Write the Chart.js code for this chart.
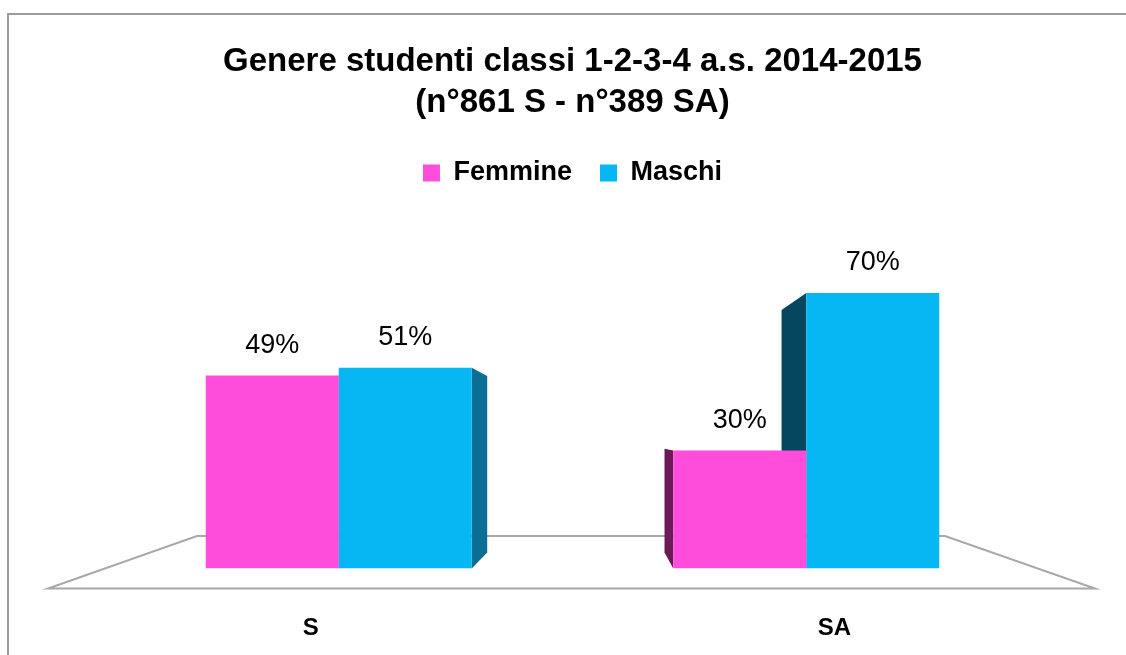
<!DOCTYPE html>
<html>
<head>
<meta charset="utf-8">
<script src="https://cdn.jsdelivr.net/npm/chart.js@4.4.0/dist/chart.umd.min.js"></script>
<style>
  html, body { margin: 0; padding: 0; background: #fff; overflow: hidden; }
  #frame { position: absolute; left: 7px; top: 13px; width: 1140px; height: 660px;
           border-left: 2px solid #9c9c9c; border-top: 2px solid #9c9c9c; }
  #wrap { position: absolute; left: 0; top: 0; width: 1126px; height: 655px; }
</style>
</head>
<body>
<div id="frame"></div>
<div id="wrap"><canvas id="myChart" width="1126" height="655"></canvas></div>
<script>
// dati
var categories = ['S', 'SA'];
var seriesNames = ['Femmine', 'Maschi'];
var femmine = [49, 30];
var maschi = [51, 70];
var titleLines = ['Genere studenti classi 1-2-3-4 a.s. 2014-2015', '(n°861 S - n°389 SA)'];

// stile
var fontFam = "'Liberation Sans', Arial, sans-serif";
var frontColors = ['#FF4DDB', '#07B7F3'];
var sideLeftColors = ['#6B1A56', '#04475F'];
var sideRightColors = ['#7A1F63', '#0A6E95'];
var depth = 0.12;

function vanish(a) {
    return { x: a.left + a.width * 0.53, y: a.top + a.height * 0.643 };
}

// pavimento 3D
var floorPlugin = {
    id: 'floor',
    beforeDatasetsDraw: function (chart) {
        var a = chart.chartArea;
        var ctx = chart.ctx;
        ctx.save();
        ctx.beginPath();
        ctx.moveTo(a.left - 57, a.bottom + 20);
        ctx.lineTo(a.right + 55, a.bottom + 20);
        ctx.lineTo(a.right - 95, a.bottom - 32.5);
        ctx.lineTo(a.left + 92, a.bottom - 32.5);
        ctx.closePath();
        ctx.strokeStyle = '#a8a8a8';
        ctx.lineWidth = 2;
        ctx.stroke();

        // facce laterali delle barre
        var v = vanish(a);
        chart.data.datasets.forEach(function (ds, di) {
            var meta = chart.getDatasetMeta(di);
            meta.data.forEach(function (bar) {
                var p = bar.getProps(['x', 'y', 'base', 'width'], true);
                var l = p.x - p.width / 2, r = p.x + p.width / 2;
                var edge, color;
                if (r <= v.x) { edge = r; color = sideRightColors[di]; }
                else if (l >= v.x) { edge = l; color = sideLeftColors[di]; }
                else return;
                var bx = edge + (v.x - edge) * depth;
                var bt = p.y + (v.y - p.y) * depth;
                var bb = p.base + (v.y - p.base) * depth;
                ctx.beginPath();
                ctx.moveTo(edge, p.y);
                ctx.lineTo(bx, bt);
                ctx.lineTo(bx, bb);
                ctx.lineTo(edge, p.base);
                ctx.closePath();
                ctx.fillStyle = color;
                ctx.fill();
            });
        });
        ctx.restore();
    }
};

// etichette percentuali e categorie
var labelPlugin = {
    id: 'labels',
    afterDatasetsDraw: function (chart) {
        var ctx = chart.ctx;
        var a = chart.chartArea;
        ctx.save();
        ctx.fillStyle = '#000';
        ctx.textAlign = 'center';
        ctx.textBaseline = 'middle';
        ctx.font = '27px ' + fontFam;
        chart.data.datasets.forEach(function (ds, di) {
            chart.getDatasetMeta(di).data.forEach(function (bar, i) {
                ctx.fillText(ds.data[i] + '%', bar.x, bar.y - 30);
            });
        });
        var xs = chart.scales.x;
        var cx = (a.left + a.right) / 2;
        ctx.font = 'bold 24px ' + fontFam;
        categories.forEach(function (c, i) {
            var tx = xs.getPixelForTick(i);
            ctx.fillText(c, cx + (tx - cx) * 1.12, a.bottom + 59.5);
        });
        ctx.restore();
    }
};

new Chart('myChart', {
    type: 'bar',
    data: {
        labels: categories,
        datasets: [{
            label: seriesNames[0],
            data: femmine,
            backgroundColor: frontColors[0],
            borderWidth: 0
        }, {
            label: seriesNames[1],
            data: maschi,
            backgroundColor: frontColors[1],
            borderWidth: 0
        }]
    },
    options: {
        responsive: false,
        animation: false,
        layout: { padding: { left: 105, right: 86, top: 0, bottom: 86.5 } },
        datasets: { bar: { barPercentage: 1, categoryPercentage: 0.569 } },
        scales: {
            x: { display: false },
            y: { display: false, min: 0, max: 94.5 }
        },
        plugins: {
            title: {
                display: true,
                text: titleLines,
                color: '#000',
                font: { family: fontFam, size: 33, weight: 'bold', lineHeight: 1.242 },
                padding: { top: 41.5, bottom: 8 }
            },
            legend: {
                labels: {
                    color: '#000',
                    boxWidth: 17,
                    boxHeight: 17,
                    padding: 28,
                    font: { family: fontFam, size: 27, weight: 'bold' }
                }
            },
            tooltip: { enabled: false }
        }
    },
    plugins: [floorPlugin, labelPlugin]
});
</script>
</body>
</html>
